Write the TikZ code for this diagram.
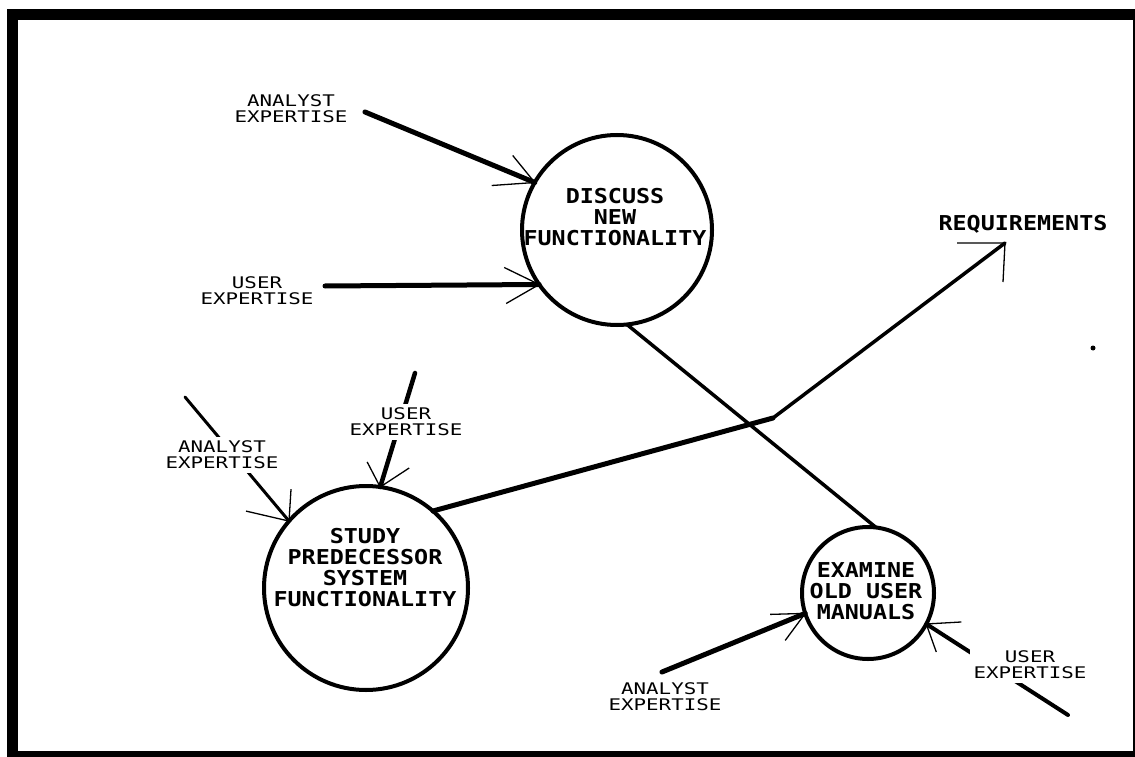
\documentclass[tikz,border=0pt]{standalone}
\usepackage{fontspec}
% plotter-style monospaced lettering: thin for the flow labels, bold for the processes
\newfontfamily\plotlabel[FakeStretch=1.3]{DejaVu Sans Mono}
\newfontfamily\plotbold[FakeStretch=1.14]{DejaVu Sans Mono}
\begin{document}
\begin{tikzpicture}[x=1pt,y=-1pt,
  bubble/.style={circle, draw, line width=4pt, inner sep=0pt, outer sep=0pt},
  bubbletext/.style={align=center, inner sep=0pt,
    font=\plotbold\bfseries\fontsize{20.5}{21}\selectfont},
  flowlabel/.style={align=center, fill=white, inner sep=4pt,
    font=\plotlabel\fontsize{16}{16}\selectfont},
  flow/.style={line width=#1, line cap=round},
  flow/.default=4.5pt,
  barb/.style={line width=1.3pt},
]
\useasboundingbox (0,0) rectangle (1135,757);

% outer frame
\begin{scope}
  \clip (0,0) rectangle (1135,757);
  \draw[line width=11pt] (12.5,15) rectangle (1138.5,756.5);
\end{scope}

% processes
\node[bubble, minimum size=190pt] (discuss) at (617,230) {};
\node[bubble, minimum size=204pt] (study)   at (366,588) {};
\node[bubble, minimum size=132pt] (examine) at (868,593) {};

\node[bubbletext] (discusstext) at (615,217.5) {DISCUSS\\NEW\\FUNCTIONALITY};
\node[bubbletext] (studytext)   at (365,568)   {STUDY\\PREDECESSOR\\SYSTEM\\FUNCTIONALITY};
\node[bubbletext] (examinetext) at (866,591)   {EXAMINE\\OLD USER\\MANUALS};

% output
\node[bubbletext, anchor=base] (req) at (1023,230) {REQUIREMENTS};

% free ends of the flows
\coordinate (da) at (365,112);
\coordinate (du) at (325,286);
\coordinate (sa) at (185,397);
\coordinate (su) at (415,373);
\coordinate (ea) at (662,672);
\coordinate (eu) at (1068,715);
\coordinate (bend) at (773,418);
\coordinate (reqtip) at (1005,243);

% inputs to DISCUSS NEW FUNCTIONALITY
\draw[flow=5pt] (da) -- (discuss.150);
\draw[barb] (discuss.150) -- ++(-22,-27) (discuss.150) -- ++(-43,3);
\draw[flow=5pt] (du) -- (discuss.215);
\draw[barb] (discuss.215) -- ++(-35,-17) (discuss.215) -- ++(-33,19);

% inputs to STUDY PREDECESSOR SYSTEM FUNCTIONALITY
\draw[flow=3pt] (sa) -- (study.139);
\draw[barb] (study.139) -- ++(2,-32) (study.139) -- ++(-43,-10);
\draw[flow=4.5pt] (su) -- (study.82);
\draw[barb] (study.82) -- ++(-13,-25) (study.82) -- ++(29,-19);

% inputs to EXAMINE OLD USER MANUALS
\draw[flow=5pt] (ea) -- (examine.198);
\draw[barb] (examine.198) -- ++(-35,1) (examine.198) -- ++(-20,27);
\draw[flow=4pt] (eu) -- (examine.-28);
\draw[barb] (examine.-28) -- ++(35,-2) (examine.-28) -- ++(10,28);

% DISCUSS to EXAMINE
\draw[flow=3.5pt] (discuss.-84) -- (examine.83);

% STUDY to REQUIREMENTS
\draw[flow=5pt] (study.49) -- (bend);
\draw[flow=3.5pt] (bend) -- (reqtip);
\draw[barb] (reqtip) -- ++(-48,0) (reqtip) -- ++(-2,39);

% stray plotter dot
\fill (1093,348) circle (2.5pt);

% flow labels
\node[flowlabel] (lda) at (291,109)  {ANALYST\\EXPERTISE};
\node[flowlabel] (ldu) at (257,291)  {USER\\EXPERTISE};
\node[flowlabel] (lsa) at (222,455)  {ANALYST\\EXPERTISE};
\node[flowlabel] (lsu) at (406,422)  {USER\\EXPERTISE};
\node[flowlabel] (lea) at (665,697)  {ANALYST\\EXPERTISE};
\node[flowlabel] (leu) at (1030,665) {USER\\EXPERTISE};
\end{tikzpicture}
\end{document}
